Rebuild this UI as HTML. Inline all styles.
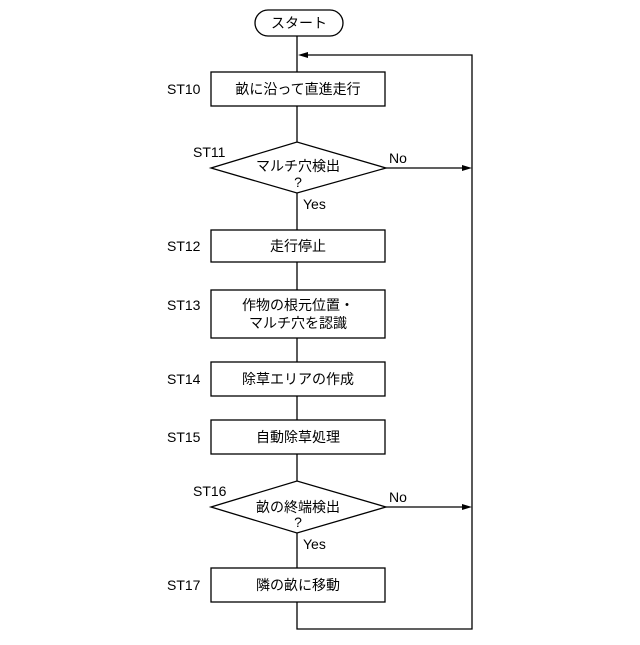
<!DOCTYPE html>
<html><head><meta charset="utf-8"><style>body{margin:0;background:#fff}</style></head><body>
<svg width="640" height="640" xmlns="http://www.w3.org/2000/svg" font-family="Liberation Sans, Noto Sans CJK JP, sans-serif" font-size="14">
<rect width="640" height="640" fill="#fff"/>
<g stroke="#000" stroke-width="1.3" fill="none">
<rect x="255" y="10" width="88" height="26" rx="13"/>
<line x1="297" y1="36" x2="297" y2="72"/>
<line x1="297" y1="106" x2="297" y2="142"/>
<line x1="297" y1="193" x2="297" y2="230"/>
<line x1="297" y1="262" x2="297" y2="290"/>
<line x1="297" y1="338" x2="297" y2="362"/>
<line x1="297" y1="396" x2="297" y2="420"/>
<line x1="297" y1="454" x2="297" y2="481"/>
<line x1="297" y1="533" x2="297" y2="568"/>
<polyline points="297,602 297,629 472,629 472,55 305,55"/>
<line x1="386" y1="168" x2="465" y2="168"/>
<line x1="386" y1="507" x2="465" y2="507"/>
<rect x="211" y="72" width="174" height="34"/>
<polygon points="211,168 297,142 386,168 297,193"/>
<rect x="211" y="230" width="174" height="32"/>
<rect x="211" y="290" width="174" height="48"/>
<rect x="211" y="362" width="174" height="34"/>
<rect x="211" y="420" width="174" height="34"/>
<polygon points="211,507 297,481 386,507 297,533"/>
<rect x="211" y="568" width="174" height="34"/>
</g>
<g fill="#000">
<polygon points="298,55 308,52 308,58"/>
<polygon points="472,168 462,165 462,171"/>
<polygon points="472,507 462,504 462,510"/>
</g>
<g text-anchor="middle">
<text x="299" y="28">スタート</text>
<text x="298" y="94">畝に沿って直進走行</text>
<text x="298" y="171">マルチ穴検出</text>
<text x="298" y="187">?</text>
<text x="298" y="251">走行停止</text>
<text x="298" y="310">作物の根元位置・</text>
<text x="298" y="328">マルチ穴を認識</text>
<text x="298" y="384">除草エリアの作成</text>
<text x="298" y="442">自動除草処理</text>
<text x="298" y="512">畝の終端検出</text>
<text x="298" y="527">?</text>
<text x="298" y="590">隣の畝に移動</text>
</g>
<g>
<text x="167" y="94">ST10</text>
<text x="193" y="157">ST11</text>
<text x="167" y="251">ST12</text>
<text x="167" y="310">ST13</text>
<text x="167" y="384">ST14</text>
<text x="167" y="442">ST15</text>
<text x="193" y="496">ST16</text>
<text x="167" y="590">ST17</text>
<text x="389" y="163">No</text>
<text x="389" y="502">No</text>
<text x="303" y="209">Yes</text>
<text x="303" y="549">Yes</text>
</g>
</svg>
</body></html>
